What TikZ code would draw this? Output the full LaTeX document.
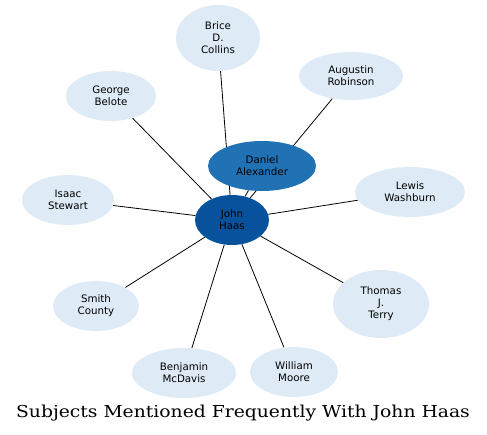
\documentclass[tikz,border=0pt]{standalone}
\usepackage{fontspec}
\setmainfont{DejaVu Sans}
\newfontfamily\titlefont[FakeStretch=1.14]{DejaVu Serif}
\usetikzlibrary{shapes.geometric,backgrounds}
\definecolor{palenode}{HTML}{DEEBF7}
\definecolor{midnode}{HTML}{2171B5}
\definecolor{darknode}{HTML}{08519C}
\begin{document}
\begin{tikzpicture}[
    x=1bp, y=-1bp,
    person/.style={ellipse, fill=palenode, inner sep=0pt, align=center,
        font=\fontsize{10.3}{12}\selectfont},
    link/.style={black, line width=0.8pt}
]
    \useasboundingbox (0,0) rectangle (487,435);

    \node[person, fill=darknode, minimum width=74bp, minimum height=50bp] (haas) at (232,220) {John\\Haas};
    \node[person, fill=midnode, minimum width=108bp, minimum height=50bp] (alexander) at (262,166) {Daniel\\Alexander};
    \node[person, minimum width=84bp, minimum height=66bp] (collins) at (218,38) {Brice\\D.\\Collins};
    \node[person, minimum width=104bp, minimum height=48bp] (robinson) at (351,76) {Augustin\\Robinson};
    \node[person, minimum width=90bp, minimum height=50bp] (belote) at (111,96) {George\\Belote};
    \node[person, minimum width=110bp, minimum height=50bp] (washburn) at (410,192) {Lewis\\Washburn};
    \node[person, minimum width=92bp, minimum height=50bp] (stewart) at (68,200) {Isaac\\Stewart};
    \node[person, minimum width=86bp, minimum height=50bp] (county) at (96,306) {Smith\\County};
    \node[person, minimum width=96bp, minimum height=68bp] (terry) at (381,304) {Thomas\\J.\\Terry};
    \node[person, minimum width=104bp, minimum height=50bp] (mcdavis) at (184,373) {Benjamin\\McDavis};
    \node[person, minimum width=88bp, minimum height=50bp] (moore) at (294,372) {William\\Moore};

    \node[font=\titlefont\fontsize{16.5}{19}\selectfont] (title) at (243,413) {Subjects Mentioned Frequently With John Haas};

    \begin{scope}[on background layer]
    \draw[link] (haas) -- (alexander);
    \draw[link] (haas) -- (collins);
    \draw[link] (haas) -- (robinson);
    \draw[link] (haas) -- (belote);
    \draw[link] (haas) -- (washburn);
    \draw[link] (haas) -- (stewart);
    \draw[link] (haas) -- (county);
    \draw[link] (haas) -- (terry);
    \draw[link] (haas) -- (mcdavis);
    \draw[link] (haas) -- (moore);
    \end{scope}
\end{tikzpicture}
\end{document}
